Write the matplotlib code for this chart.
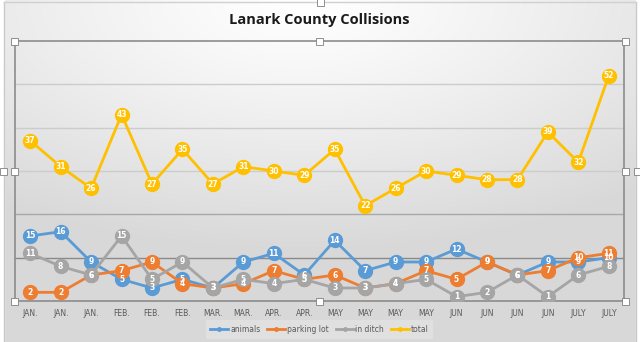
#Lanark County Collisions - line chart with labelled markers

import numpy as np
import matplotlib.pyplot as plt
from matplotlib.patches import Rectangle

months = ["JAN.", "JAN.", "JAN.", "FEB.", "FEB.", "FEB.", "MAR.", "MAR.", "APR.", "APR.",
          "MAY", "MAY", "MAY", "MAY", "JUN", "JUN", "JUN", "JUN", "JULY", "JULY"]
animals = [15, 16, 9, 5, 3, 5, 3, 9, 11, 6, 14, 7, 9, 9, 12, 9, 6, 9, 9, 10]
parking_lot = [2, 2, 6, 7, 9, 4, 3, 4, 7, 5, 6, 3, 4, 7, 5, 9, 6, 7, 10, 11]
in_ditch = [11, 8, 6, 15, 5, 9, 3, 5, 4, 5, 3, 3, 4, 5, 1, 2, 6, 1, 6, 8]
total = [37, 31, 26, 43, 27, 35, 27, 31, 30, 29, 35, 22, 26, 30, 29, 28, 28, 39, 32, 52]

series = [("animals", animals, "#5B9BD5"),
          ("parking lot", parking_lot, "#ED7D31"),
          ("in ditch", in_ditch, "#A5A5A5"),
          ("total", total, "#FFC000")]

fig = plt.figure(figsize=(6.4, 3.42), dpi=100)
fig.patch.set_facecolor("white")

# gradient background of the chart area
bg = fig.add_axes([0, 0, 1, 1], zorder=-10)
yy, xx = np.mgrid[0:1:342j, 0:1:640j]
d = np.sqrt((xx - 0.47) ** 2 + ((yy - 0.0) * 1.1) ** 2)
shade = 1.0 - 0.15 * np.clip(d / 0.8, 0, 1) ** 1.2
img = np.dstack([shade, shade, shade])
bg.imshow(img, extent=[0, 640, 342, 0], aspect="auto")
bg.add_patch(Rectangle((0, 0), 4, 342, color="white"))
bg.add_patch(Rectangle((636, 0), 4, 342, color="white"))
bg.plot([4, 4], [2, 342], color="#c8c8c8", lw=1)
bg.plot([636, 636], [2, 342], color="#c8c8c8", lw=1)
bg.plot([4, 636], [2, 2], color="#d0d0d0", lw=1)
bg.set_xlim(0, 640)
bg.set_ylim(342, 0)
bg.axis("off")

ax = fig.add_axes([15 / 640, 1 - 301 / 342, 609 / 640, 260 / 342])
ax.set_facecolor("none")
x = np.arange(len(months))

for name, vals, col in series:
    ax.plot(x, vals, color=col, lw=2, marker="o", markersize=10,
            markeredgecolor=col, label=name, zorder=3)
for name, vals, col in series:
    for xi, v in zip(x, vals):
        ax.text(xi, v, str(v), color="white", fontsize=5.5, fontweight="bold",
                ha="center", va="center", zorder=5)

ax.set_xlim(-0.5, len(months) - 0.5)
ax.set_ylim(0, 60)
ax.set_yticks(range(0, 61, 10))
ax.set_yticklabels([])
ax.tick_params(axis="y", length=0)
ax.set_xticks(x)
ax.set_xticklabels(months, fontsize=5.5, color="#595959")
ax.tick_params(axis="x", length=0, pad=6)
for yv in range(10, 60, 10):
    c = "#8a8a8a" if yv == 10 else ("#a8a8a8" if yv == 20 else "#cccccc")
    ax.axhline(yv, color=c, lw=1, zorder=1)
for s in ax.spines.values():
    s.set_color("#8c8c8c")
    s.set_linewidth(1.2)

ax.set_title("Lanark County Collisions", fontsize=10.5, fontweight="bold",
             family="Open Sans", color="#1a1a1a", pad=12)

leg = ax.legend(loc="upper center", bbox_to_anchor=(0.5, -0.06), ncol=4,
                fontsize=5.5, frameon=True, handlelength=2.4, markerscale=0.25,
                handletextpad=0.2, columnspacing=0.9, borderpad=0.6)
leg.get_frame().set_facecolor("#e3e3e3")
leg.get_frame().set_edgecolor("none")
for t in leg.get_texts():
    t.set_color("#595959")

# selection handles on an overlay
handles = [(14, 41), (319, 41), (625, 41), (14, 171), (625, 171),
           (14, 301), (319, 301), (625, 301), (320, 2), (3, 171), (637, 171)]
ov = fig.add_axes([0, 0, 1, 1], zorder=20)
ov.set_xlim(0, 640)
ov.set_ylim(342, 0)
ov.axis("off")
for hx, hy in handles:
    ov.add_patch(Rectangle((hx - 3.5, hy - 3.5), 7, 7, facecolor="white",
                           edgecolor="#7f7f7f", lw=0.6))

plt.savefig("out.png", dpi=100)
